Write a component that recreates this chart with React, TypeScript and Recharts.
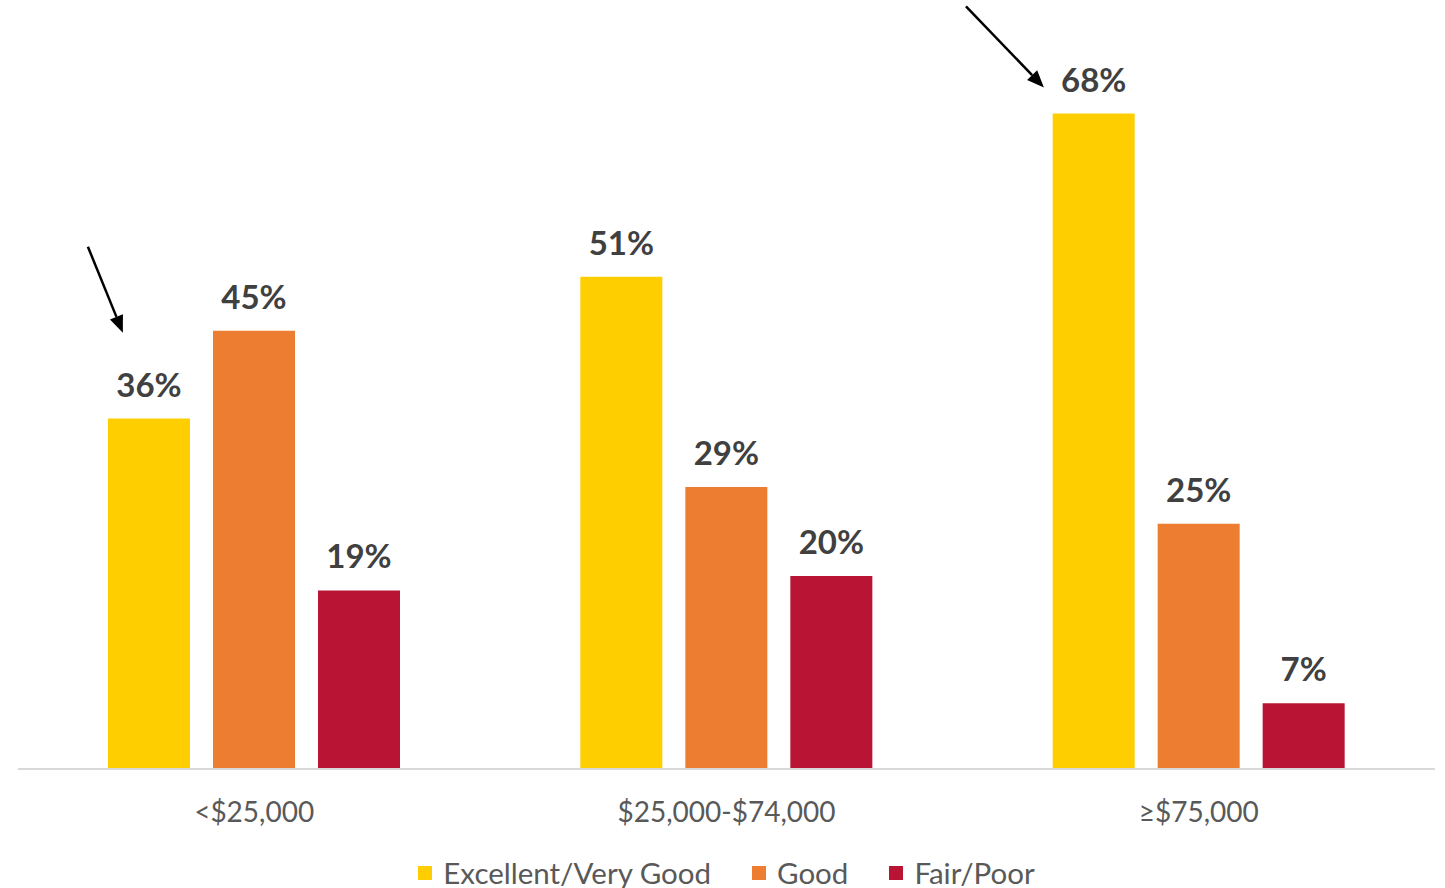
import React from 'react';
import { BarChart, Bar, XAxis, YAxis, LabelList, Legend, ReferenceLine } from 'recharts';

const categories = ['<$25,000', '$25,000-$74,000', '≥$75,000'];
const categoryPositions = [0.5, 1.5, 2.5];
const excellentVeryGood = [36.3, 51.0, 67.9];
const good = [45.4, 29.2, 25.4];
const fairPoor = [18.5, 20.0, 6.8];
const seriesNames = ['Excellent/Very Good', 'Good', 'Fair/Poor'];
const seriesColors = ['#FFCE00', '#ED7D31', '#B91434'];
// annotation arrows: [x1, y1, x2, y2] in (category-width units, percent units)
const arrows = [
  [0.148, 54.1, 0.222, 45.2],
  [2.007, 79.0, 2.172, 70.6],
];

const data = categories.map((c, i) => ({
  name: c,
  pos: categoryPositions[i],
  ev: excellentVeryGood[i],
  g: good[i],
  fp: fairPoor[i],
}));

const FONT = 'Lato, "Open Sans", sans-serif';

const ArrowShape = (props: any) => {
  const { x1, y1, x2, y2 } = props;
  if ([x1, y1, x2, y2].some((v) => typeof v !== 'number' || isNaN(v))) return null;
  const dx = x2 - x1;
  const dy = y2 - y1;
  const len = Math.sqrt(dx * dx + dy * dy);
  const ux = dx / len;
  const uy = dy / len;
  const headLen = 17;
  const headW = 7;
  const bx = x2 - ux * headLen;
  const by = y2 - uy * headLen;
  const px = -uy;
  const py = ux;
  return (
    <g>
      <line x1={x1} y1={y1} x2={bx} y2={by} stroke="#000" strokeWidth={2.5} />
      <polygon
        points={`${x2},${y2} ${bx + px * headW},${by + py * headW} ${bx - px * headW},${by - py * headW}`}
        fill="#000"
      />
    </g>
  );
};

const renderLegend = () => (
  <div
    style={{
      display: 'flex',
      justifyContent: 'center',
      alignItems: 'center',
      height: 30,
      fontFamily: FONT,
      fontSize: 29.5,
      color: '#595959',
    }}
  >
    {seriesNames.map((n, i) => (
      <div key={n} style={{ display: 'flex', alignItems: 'center', marginLeft: i === 0 ? 0 : 41 }}>
        <div style={{ width: 14, height: 14, background: seriesColors[i], marginRight: 11 }} />
        <span style={{ lineHeight: '30px' }}>{n}</span>
      </div>
    ))}
  </div>
);

const fmt = (v: any) => `${Math.round(Number(v))}%`;

export default function App() {
  const keys = ['ev', 'g', 'fp'];
  return (
    <div style={{ position: 'absolute', left: 0, top: 0, background: '#fff' }}>
      <BarChart
        width={1445}
        height={888}
        data={data}
        margin={{ top: 16, right: 10, bottom: 0, left: 18 }}
        barSize={82}
        barGap={23}
      >
        <XAxis
          dataKey="name"
          axisLine={{ stroke: '#D9D9D9', strokeWidth: 2 }}
          tickLine={false}
          tickSize={0}
          tickMargin={33}
          height={89}
          tick={{ fill: '#595959', fontSize: 28, fontFamily: FONT }}
          interval={0}
        />
        <XAxis xAxisId="num" dataKey="pos" type="number" domain={[0, 3]} hide allowDataOverflow />
        <YAxis domain={[0, 78]} hide />
        {keys.map((k, i) => (
          <Bar key={k} dataKey={k} name={seriesNames[i]} fill={seriesColors[i]} isAnimationActive={false}>
            <LabelList
              dataKey={k}
              position="top"
              offset={22}
              formatter={fmt}
              style={{ fill: '#404040', fontSize: 33, fontWeight: 700, fontFamily: FONT }}
            />
          </Bar>
        ))}
        {arrows.map((a, i) => (
          <ReferenceLine
            key={i}
            xAxisId="num"
            segment={[
              { x: a[0], y: a[1] },
              { x: a[2], y: a[3] },
            ]}
            ifOverflow="visible"
            shape={ArrowShape}
          />
        ))}
        <Legend verticalAlign="bottom" content={renderLegend} wrapperStyle={{ height: 30 }} />
      </BarChart>
    </div>
  );
}
